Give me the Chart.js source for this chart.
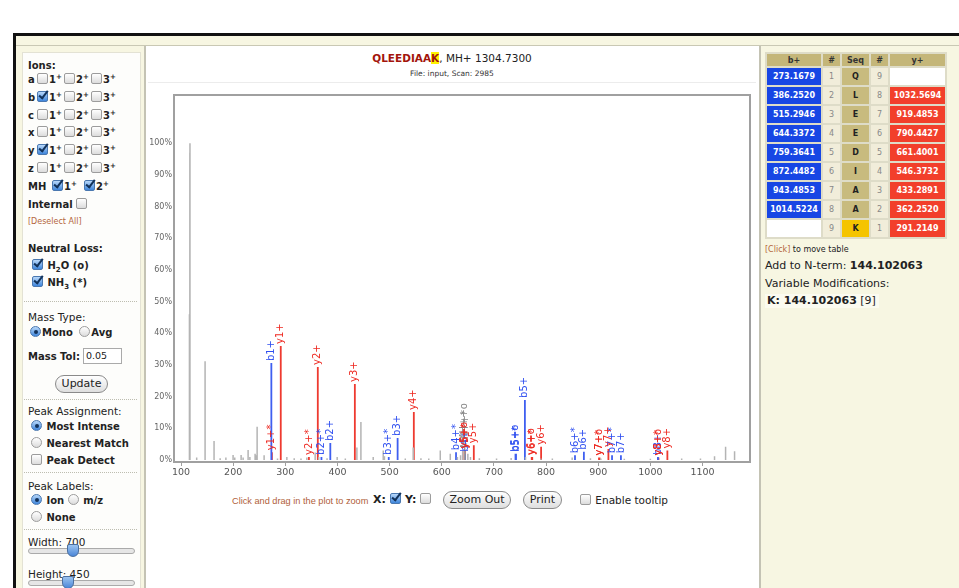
<!DOCTYPE html>
<html>
<head>
<meta charset="utf-8">
<script src="https://cdn.jsdelivr.net/npm/chart.js@4.4.0/dist/chart.umd.min.js"></script>
<style>
  body { margin: 0; width: 959px; height: 588px; overflow: hidden; background: #fff; font-family: "DejaVu Sans", sans-serif; color: #222; position: relative; }
  .abs { position: absolute; white-space: nowrap; line-height: 14px; }
  #frame { position: absolute; left: 13px; top: 33px; width: 960px; height: 560px; border-left: 3px solid #111; border-top: 3px solid #111; background: #f7f6e2; }
  #hline { position: absolute; left: 16px; top: 45px; width: 943px; height: 1px; background: #c9c8b4; }
  #center { position: absolute; left: 144px; top: 46px; width: 613px; height: 542px; background: #fff; border-left: 2px solid #c4c3b4; border-right: 2px solid #c4c3b4; }
  #leftbox { position: absolute; left: 22px; top: 52px; width: 117px; height: 540px; background: #fdfdfb; border: 1px solid #e3e2d4; }
  .sep { position: absolute; left: 24px; width: 113px; border-top: 1px dotted #bdbdb0; }
  .b { font-weight: bold; font-size: 10px; }
  .n { font-size: 10.5px; }
  sup { font-size: 7px; vertical-align: top; line-height: 8px; }
  .cb { display: inline-block; width: 9px; height: 9px; border: 1px solid #9c9c9c; border-radius: 2px; background: linear-gradient(#fff, #dcdcdc); vertical-align: -1px; position: relative; margin-right: 1px; }
  .cb.on { background: linear-gradient(#b8d8fa, #3f86dc); border-color: #4a78b0; }
  .cb.on::after { content: ""; position: absolute; left: 3px; top: -3px; width: 3px; height: 8px; border-right: 2px solid #12325a; border-bottom: 2px solid #12325a; transform: rotate(38deg); }
  .rd { display: inline-block; width: 9px; height: 9px; border: 1px solid #9c9c9c; border-radius: 50%; background: linear-gradient(#fff, #dcdcdc); vertical-align: -1px; position: relative; margin-right: 1px; }
  .rd.on { background: linear-gradient(#b8d8fa, #3f86dc); border-color: #4a78b0; }
  .rd.on::after { content: ""; position: absolute; left: 2.5px; top: 2.5px; width: 4px; height: 4px; border-radius: 50%; background: #12325a; }
  .grp { display: inline-block; width: 27px; }
  .lab { display: inline-block; width: 9px; }
  .btn { position: absolute; border: 1px solid #8a8a8a; border-radius: 9px; background: linear-gradient(#fff, #dedede); text-align: center; font-size: 11px; line-height: 16px; height: 16px; }
  .link { color: #b4653c; font-size: 8px; }
  .track { position: absolute; left: 28px; width: 105px; height: 4px; border: 1px solid #aaa; border-radius: 3px; background: #e6e6e6; }
  .thumb { position: absolute; width: 10px; height: 11px; background: linear-gradient(#9cc4f0, #4a86d8); border: 1px solid #4a6fa0; border-radius: 2px 2px 6px 6px; }
  #ions { position: absolute; left: 765px; top: 52px; border-collapse: separate; border-spacing: 2px; background: #dedcc8; font-size: 8px; font-weight: bold; }
  #ions td { padding: 0; text-align: center; height: 17px; }
  #ions th { padding: 0; height: 12px; background: #c4b679; color: #333; font-size: 8px; }
  #spectrum { position: absolute; left: 136px; top: 85px; }
</style>
</head>
<body>
<div id="frame"></div>
<div id="hline"></div>
<div id="leftbox"></div>
<div id="center"></div>

<!-- left control panel -->
<div class="abs b" style="left:28px;top:59px">Ions:</div>
<div class="abs b" style="left:28px;top:73px"><span class="lab">a</span><span class="grp"><span class="cb"></span>1<sup>+</sup></span><span class="grp"><span class="cb"></span>2<sup>+</sup></span><span class="grp"><span class="cb"></span>3<sup>+</sup></span></div>
<div class="abs b" style="left:28px;top:91px"><span class="lab">b</span><span class="grp"><span class="cb on"></span>1<sup>+</sup></span><span class="grp"><span class="cb"></span>2<sup>+</sup></span><span class="grp"><span class="cb"></span>3<sup>+</sup></span></div>
<div class="abs b" style="left:28px;top:109px"><span class="lab">c</span><span class="grp"><span class="cb"></span>1<sup>+</sup></span><span class="grp"><span class="cb"></span>2<sup>+</sup></span><span class="grp"><span class="cb"></span>3<sup>+</sup></span></div>
<div class="abs b" style="left:28px;top:126px"><span class="lab">x</span><span class="grp"><span class="cb"></span>1<sup>+</sup></span><span class="grp"><span class="cb"></span>2<sup>+</sup></span><span class="grp"><span class="cb"></span>3<sup>+</sup></span></div>
<div class="abs b" style="left:28px;top:144px"><span class="lab">y</span><span class="grp"><span class="cb on"></span>1<sup>+</sup></span><span class="grp"><span class="cb"></span>2<sup>+</sup></span><span class="grp"><span class="cb"></span>3<sup>+</sup></span></div>
<div class="abs b" style="left:28px;top:162px"><span class="lab">z</span><span class="grp"><span class="cb"></span>1<sup>+</sup></span><span class="grp"><span class="cb"></span>2<sup>+</sup></span><span class="grp"><span class="cb"></span>3<sup>+</sup></span></div>
<div class="abs b" style="left:28px;top:180px"><span style="display:inline-block;width:24px">MH</span><span class="grp" style="width:32px"><span class="cb on"></span>1<sup>+</sup></span><span class="grp"><span class="cb on"></span>2<sup>+</sup></span></div>
<div class="abs b" style="left:28px;top:198px">Internal <span class="cb"></span></div>
<div class="abs link" style="left:28px;top:215px">[Deselect All]</div>
<div class="abs b" style="left:28px;top:242px">Neutral Loss:</div>
<div class="abs b" style="left:32px;top:259px"><span class="cb on"></span> H<sub style="font-size:7px">2</sub>O (o)</div>
<div class="abs b" style="left:32px;top:276px"><span class="cb on"></span> NH<sub style="font-size:7px">3</sub> (*)</div>
<div class="sep" style="top:301px"></div>
<div class="abs n" style="left:28px;top:310px">Mass Type:</div>
<div class="abs b" style="left:30px;top:326px"><span class="rd on"></span>Mono <span class="rd" style="margin-left:3px"></span>Avg</div>
<div class="abs b" style="left:28px;top:350px">Mass Tol:</div>
<div class="abs" style="left:83px;top:348px;width:35px;height:14px;border:1px solid #aaa;background:#fff;font-size:9.5px;line-height:14px;padding-left:2px">0.05</div>
<div class="btn" style="left:55px;top:375px;width:51px">Update</div>
<div class="sep" style="top:399px"></div>
<div class="abs n" style="left:28px;top:404px">Peak Assignment:</div>
<div class="abs b" style="left:31px;top:420px"><span class="rd on"></span> Most Intense</div>
<div class="abs b" style="left:31px;top:437px"><span class="rd"></span> Nearest Match</div>
<div class="abs b" style="left:31px;top:454px"><span class="cb"></span> Peak Detect</div>
<div class="sep" style="top:472px"></div>
<div class="abs n" style="left:28px;top:479px">Peak Labels:</div>
<div class="abs b" style="left:31px;top:494px"><span class="rd on"></span> Ion <span class="rd"></span> m/z</div>
<div class="abs b" style="left:31px;top:511px"><span class="rd"></span> None</div>
<div class="sep" style="top:529px"></div>
<div class="abs n" style="left:28px;top:535px">Width: 700</div>
<div class="track" style="top:548px"></div>
<div class="thumb" style="left:67px;top:544px"></div>
<div class="abs n" style="left:28px;top:567px">Height: 450</div>
<div class="track" style="top:580px"></div>
<div class="thumb" style="left:62px;top:576px"></div>

<!-- chart header -->
<div class="abs" style="left:146px;top:51px;width:612px;text-align:center;font-size:10.5px"><span style="color:#a3150c;font-weight:bold">QLEEDIAA<span style="background:#fff200">K</span></span>, MH+ 1304.7300</div>
<div class="abs" style="left:146px;top:67px;width:612px;text-align:center;font-size:7.5px;color:#333">File: input, Scan: 2985</div>
<div class="abs" style="left:148px;top:82px;width:608px;height:1px;background:#ececec"></div>

<canvas id="spectrum" width="622" height="397"></canvas>

<!-- controls under the plot -->
<div class="abs" style="left:232px;top:494px;font-family:'Liberation Sans';font-size:9.2px;color:#b0603a">Click and drag in the plot to zoom</div>
<div class="abs b" style="left:373px;top:493px;font-size:11px">X: <span class="cb on"></span></div>
<div class="abs b" style="left:405px;top:493px;font-size:11px">Y: <span class="cb"></span></div>
<div class="btn" style="left:443px;top:491px;width:66px">Zoom Out</div>
<div class="btn" style="left:523px;top:491px;width:37px">Print</div>
<div class="abs" style="left:580px;top:493px;font-size:10.5px"><span class="cb"></span> Enable tooltip</div>

<!-- fragment ion table -->
<table id="ions"></table>
<div class="abs" style="left:765px;top:243px;font-size:8px"><span class="link">[Click]</span> to move table</div>
<div class="abs" style="left:765px;top:259px;font-size:11px">Add to N-term: <b>144.102063</b></div>
<div class="abs" style="left:765px;top:277px;font-size:11px">Variable Modifications:</div>
<div class="abs" style="left:765px;top:294px;font-size:11px;background:#fbfbf0;padding:0 3px 0 2px"><b>K: 144.102063</b> [9]</div>

<script>
// sequence table
const residues = ['Q', 'L', 'E', 'E', 'D', 'I', 'A', 'A', 'K'];
const bTable = ['273.1679', '386.2520', '515.2946', '644.3372', '759.3641', '872.4482', '943.4853', '1014.5224', ''];
const yTable = ['', '1032.5694', '919.4853', '790.4427', '661.4001', '546.3732', '433.2891', '362.2520', '291.2149'];

// axis ticks
const xTicks = [100, 200, 300, 400, 500, 600, 700, 800, 900, 1000, 1100];
const yTicks = [0, 10, 20, 30, 40, 50, 60, 70, 80, 90, 100];

// unassigned peaks (m/z, relative intensity %)
const otherMz = [116.1, 116.9, 117.1, 130.0, 146.1, 163.3, 175.0, 186.0, 199.8, 203.0, 215.2, 219.0, 228.6, 232.0, 242.0, 244.2, 245.9, 259.3, 285.0, 302.9, 317.0, 330.0, 341.3, 357.2, 364.0, 380.0, 399.4, 415.0, 437.2, 444.9, 468.5, 487.7, 490.0, 530.0, 545.3, 560.0, 575.0, 597.1, 616.3, 630.0, 636.0, 640.0, 650.0, 655.0, 672.0, 705.0, 733.0, 760.5, 790.0, 812.0, 850.0, 885.0, 905.0, 950.0, 1000.0, 1060.0, 1096.0, 1123.0, 1144.2, 1161.4];
const otherInt = [46, 97, 100, 0.8, 31.2, 6, 0.6, 0.8, 1.6, 0.8, 1.6, 0.8, 3.2, 1, 2, 1.5, 10.5, 1.5, 0.5, 1, 0.6, 0.5, 0.8, 2.4, 1, 0.6, 1, 0.5, 4, 12, 1, 3, 1.2, 0.5, 4, 0.6, 0.5, 3, 2, 1, 1.5, 3, 2, 1, 0.6, 0.5, 0.7, 1, 0.5, 0.5, 0.8, 0.6, 0.5, 0.4, 0.4, 0.5, 0.5, 1.2, 4.2, 2.8];

// precursor peaks (gray, labelled)
const mhMz = [643.86, 644.36];
const mhInt = [5, 3.2];
const mhLabels = ['MH++o', 'MH++*'];

// b ions
const bMz = [273.17, 369.23, 386.25, 498.27, 515.29, 627.31, 644.34, 741.35, 742.34, 759.36, 855.42, 872.45, 926.46, 943.49, 1014.52];
const bInt = [30.6, 1, 5.4, 1, 7, 2.5, 2, 2, 2, 19, 1.5, 2.6, 1.5, 1.5, 1];
const bLabels = ['b1+', 'b2+*', 'b2+', 'b3+*', 'b3+', 'b4+*', 'b4+', 'b5+o', 'b5+*', 'b5+', 'b6+*', 'b6+', 'b7+*', 'b7+', 'b8+'];

// y ions
const yMz = [274.19, 291.21, 345.22, 362.25, 433.29, 546.37, 643.39, 644.37, 661.40, 772.43, 773.42, 790.44, 901.47, 902.46, 919.49, 1014.56, 1015.54, 1032.57];
const yInt = [2.5, 36, 1, 29.4, 24, 15.2, 3, 3, 4.7, 1, 1, 4.2, 0.8, 0.8, 3.5, 0.8, 0.8, 3];
const yLabels = ['y1+*', 'y1+', 'y2+*', 'y2+', 'y3+', 'y4+', 'y5+o', 'y5+*', 'y5+', 'y6+o', 'y6+*', 'y6+', 'y7+o', 'y7+*', 'y7+', 'y8+o', 'y8+*', 'y8+'];

// build the table
let html = '<tr><th>b+</th><th>#</th><th>Seq</th><th>#</th><th>y+</th></tr>';
residues.forEach(function(r, i) {
  const bStyle = bTable[i] ? 'background:#1746e4;color:#fff' : 'background:#fff';
  const yStyle = yTable[i] ? 'background:#f23f2b;color:#fff' : 'background:#fff';
  const seqBg = i === 8 ? '#f5c400' : '#c8bb7e';
  html += '<tr><td style="width:54px;' + bStyle + '">' + bTable[i] + '</td>' +
    '<td style="width:17px;background:#f1edda;color:#888;font-weight:normal">' + (i + 1) + '</td>' +
    '<td style="width:27px;background:' + seqBg + ';color:#222">' + r + '</td>' +
    '<td style="width:17px;background:#f1edda;color:#888;font-weight:normal">' + (9 - i) + '</td>' +
    '<td style="width:55px;' + yStyle + '">' + yTable[i] + '</td></tr>';
});
document.getElementById('ions').innerHTML = html;

// vertical sticks: each peak is (m,0)-(m,h) followed by a gap
function sticks(mz, inten) {
  const pts = [];
  mz.forEach(function(m, i) {
    pts.push({x: m, y: 0}, {x: m, y: inten[i]}, {x: m, y: null});
  });
  return pts;
}

const labelSets = [
  {mz: mhMz, int: mhInt, labels: mhLabels, color: '#8a8a8a'},
  {mz: bMz, int: bInt, labels: bLabels, color: '#2f4ff0'},
  {mz: yMz, int: yInt, labels: yLabels, color: '#ee2a22'}
];

const peakLabels = {
  id: 'peakLabels',
  afterDatasetsDraw(chart) {
    const ctx = chart.ctx, xs = chart.scales.x, ys = chart.scales.y;
    ctx.save();
    ctx.font = '10px "DejaVu Sans"';
    ctx.textAlign = 'left';
    ctx.textBaseline = 'middle';
    labelSets.forEach(function(set) {
      ctx.fillStyle = set.color;
      set.mz.forEach(function(m, i) {
        const px = xs.getPixelForValue(m);
        const py = ys.getPixelForValue(set.int[i]);
        ctx.save();
        ctx.translate(px, py - 2);
        ctx.rotate(-Math.PI / 2);
        ctx.fillText(set.labels[i], 0, 0);
        ctx.restore();
      });
    });
    ctx.restore();
  }
};

// gray box around the plot
const plotFrame = {
  id: 'plotFrame',
  afterDraw(chart) {
    const a = chart.chartArea, ctx = chart.ctx;
    ctx.save();
    ctx.strokeStyle = '#a0a0a0';
    ctx.lineWidth = 2;
    ctx.strokeRect(a.left, a.top, a.right - a.left, a.bottom - a.top);
    ctx.restore();
  }
};

new Chart(document.getElementById('spectrum'), {
  type: 'line',
  data: {
    datasets: [
      {data: sticks(otherMz, otherInt), borderColor: '#b4b4b4', borderWidth: 1.5},
      {data: sticks(mhMz, mhInt), borderColor: '#9a9a9a', borderWidth: 1.5},
      {data: sticks(bMz, bInt), borderColor: '#3f5ff0', borderWidth: 1.8},
      {data: sticks(yMz, yInt), borderColor: '#ee3a30', borderWidth: 1.8}
    ]
  },
  options: {
    responsive: false,
    animation: false,
    spanGaps: false,
    elements: {point: {radius: 0, hoverRadius: 0}, line: {tension: 0}},
    layout: {padding: {top: 10, right: 8, left: 0, bottom: 0}},
    plugins: {legend: {display: false}, tooltip: {enabled: false}},
    events: [],
    scales: {
      x: {
        type: 'linear',
        min: 86.5,
        max: 1191,
        afterFit: function(s) { s.height = 20; },
        afterBuildTicks: function(s) { s.ticks = xTicks.map(function(v) { return {value: v}; }); },
        grid: {drawOnChartArea: false, tickLength: 4, color: '#a0a0a0'},
        border: {display: false},
        ticks: {
          font: {family: 'DejaVu Sans', size: 9.5},
          color: '#555',
          padding: 1,
          maxRotation: 0,
          callback: function(v) { return String(v); }
        }
      },
      y: {
        min: -0.6,
        max: 115.2,
        afterFit: function(s) { s.width = 38; },
        afterBuildTicks: function(s) { s.ticks = yTicks.map(function(v) { return {value: v}; }); },
        grid: {display: false, drawTicks: false},
        border: {display: false},
        ticks: {
          font: {family: 'DejaVu Sans', size: 8},
          color: '#666',
          padding: 2,
          callback: function(v) { return v + '%'; }
        }
      }
    }
  },
  plugins: [peakLabels, plotFrame]
});
</script>
</body>
</html>
